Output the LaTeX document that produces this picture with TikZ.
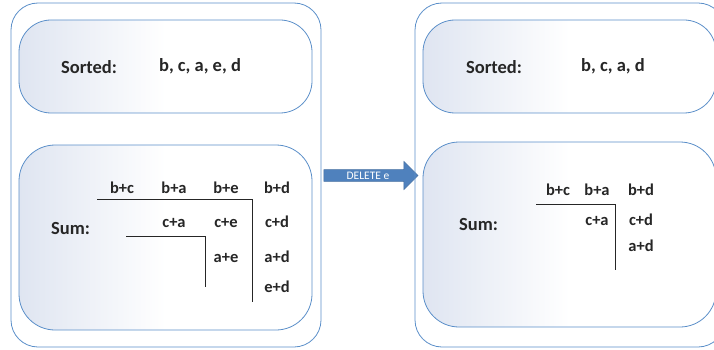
\documentclass[tikz,border=0pt]{standalone}
\usepackage{fontspec}
\setmainfont{Carlito}
\usepackage{tikz}
\usetikzlibrary{shapes.arrows}

\definecolor{boxline}{HTML}{5B8FC9}
\definecolor{boxshade}{HTML}{DFE5F1}
\definecolor{arrowblue}{HTML}{4F81BD}
\definecolor{textgray}{HTML}{262626}

\tikzset{
  outerbox/.style={draw=boxline, line width=0.8pt, rounded corners=27pt},
  innerbox/.style={draw=boxline, line width=0.8pt, rounded corners=#1,
    left color=boxshade, right color=white, middle color=white},
  headtext/.style={anchor=base, inner sep=0pt, text=textgray,
    font=\bfseries\fontsize{18.5}{20}\selectfont},
  sumtext/.style={anchor=base, inner sep=0pt, text=textgray,
    font=\bfseries\fontsize{16.5}{18}\selectfont},
  rule/.style={draw=black!85, line width=0.9pt}
}

\begin{document}
\begin{tikzpicture}[x=1pt,y=-1pt]
  \useasboundingbox (0,0) rectangle (714,350);
  \clip (0,0) rectangle (714,350);

  % before
  \draw[outerbox] (11,3) rectangle (321,347);
  \draw[innerbox=32pt] (19,20) rectangle (312,113);
  \draw[innerbox=36pt] (19,145) rectangle (312,330);

  \node[headtext] (sortedA) at (89,74) {Sorted:};
  \node[headtext] (listA) at (200,72) {b, c, a, e, d};
  \node[headtext] (sumA) at (70.5,234) {Sum:};

  \node[sumtext] (bcA) at (122,193) {b+c};
  \node[sumtext] (baA) at (174,193) {b+a};
  \node[sumtext] (beA) at (226,193) {b+e};
  \node[sumtext] (bdA) at (277,193) {b+d};
  \node[sumtext] (caA) at (174,227) {c+a};
  \node[sumtext] (ceA) at (226,227) {c+e};
  \node[sumtext] (cdA) at (277,227) {c+d};
  \node[sumtext] (aeA) at (226,262) {a+e};
  \node[sumtext] (adA) at (277,262) {a+d};
  \node[sumtext] (edA) at (277,292) {e+d};

  \draw[rule] (97,199) -- (252,199) -- (252,302);
  \draw[rule] (126,236) -- (205,236) -- (205,287);

  % delete
  \node[single arrow, fill=arrowblue, draw=arrowblue!85!black, line width=0.5pt,
        minimum height=94pt, minimum width=28pt, single arrow head extend=7pt,
        inner sep=1pt, text=white, font=\fontsize{11.5}{12}\selectfont]
        (delete) at (368,175.5) {DELETE e};

  % after
  \draw[outerbox] (415,3) rectangle (725,347);
  \draw[innerbox=32pt] (423,20) rectangle (716,113);
  \draw[innerbox=36pt] (423,142) rectangle (716,327);

  \node[headtext] (sortedB) at (494,74) {Sorted:};
  \node[headtext] (listB) at (613,72) {b, c, a, d};
  \node[headtext] (sumB) at (478.5,230) {Sum:};

  \node[sumtext] (bcB) at (558,195) {b+c};
  \node[sumtext] (baB) at (597,195) {b+a};
  \node[sumtext] (bdB) at (641,195) {b+d};
  \node[sumtext] (caB) at (597,225) {c+a};
  \node[sumtext] (cdB) at (641,225) {c+d};
  \node[sumtext] (adB) at (641,251) {a+d};

  \draw[rule] (536,204) -- (615,204) -- (615,270);
\end{tikzpicture}
\end{document}
